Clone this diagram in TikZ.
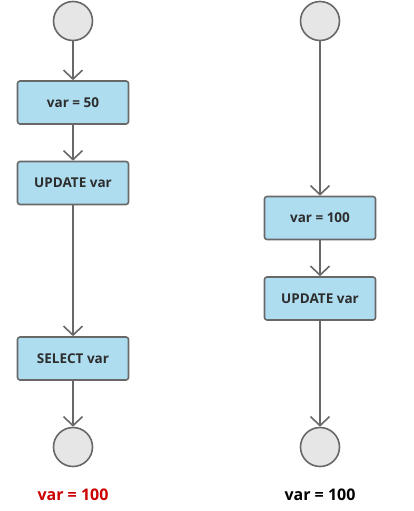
\documentclass[tikz,border=0pt]{standalone}
\usepackage{tikz}
\usetikzlibrary{positioning,arrows.meta}
\usepackage{fontspec}
\setmainfont{Open Sans}
\definecolor{boxblue}{RGB}{174,221,240}
\definecolor{edgegray}{RGB}{104,104,104}
\definecolor{dotgray}{RGB}{230,230,230}
\definecolor{textgray}{RGB}{45,45,45}
\definecolor{resred}{RGB}{204,0,0}

\begin{document}
\begin{tikzpicture}[x=1pt,y=-1pt,
		state/.style={circle, draw=edgegray, fill=dotgray, line width=1.6pt, minimum size=39pt, inner sep=0pt},
		stmt/.style={rectangle, rounded corners=2.5pt, draw=edgegray, fill=boxblue, line width=1.6pt, minimum width=111pt, minimum height=43pt, inner sep=0pt, font=\fontsize{13.5}{16}\selectfont\bfseries, text=textgray},
		result/.style={font=\fontsize{16}{19}\selectfont\bfseries},
		flow/.style={-{Straight Barb[length=9pt,width=19pt,line width=1.6pt]}, draw=edgegray, line width=1.6pt}
		]
		\useasboundingbox (0,0) rectangle (414,511);
		% left transaction
		\node[state] (s1) at (73,21) {};
		\node[stmt] (a1) at (73,102.5) {var = 50};
		\node[stmt] (u1) at (73,183) {UPDATE var};
		\node[stmt] (q1) at (73,358.5) {SELECT var};
		\node[state] (e1) at (73,447) {};
		\node[result, text=resred] (r1) at (73,495) {var = 100};
		\draw[flow] (s1) -- (a1);
		\draw[flow] (a1) -- (u1);
		\draw[flow] (u1) -- (q1);
		\draw[flow] (q1) -- (e1);
		% right transaction
		\node[state] (s2) at (320,21) {};
		\node[stmt] (a2) at (320,218) {var = 100};
		\node[stmt] (u2) at (320,298.5) {UPDATE var};
		\node[state] (e2) at (320,447) {};
		\node[result, text=black] (r2) at (320,495) {var = 100};
		\draw[flow] (s2) -- (a2);
		\draw[flow] (a2) -- (u2);
		\draw[flow] (u2) -- (e2);
	\end{tikzpicture}
\end{document}
